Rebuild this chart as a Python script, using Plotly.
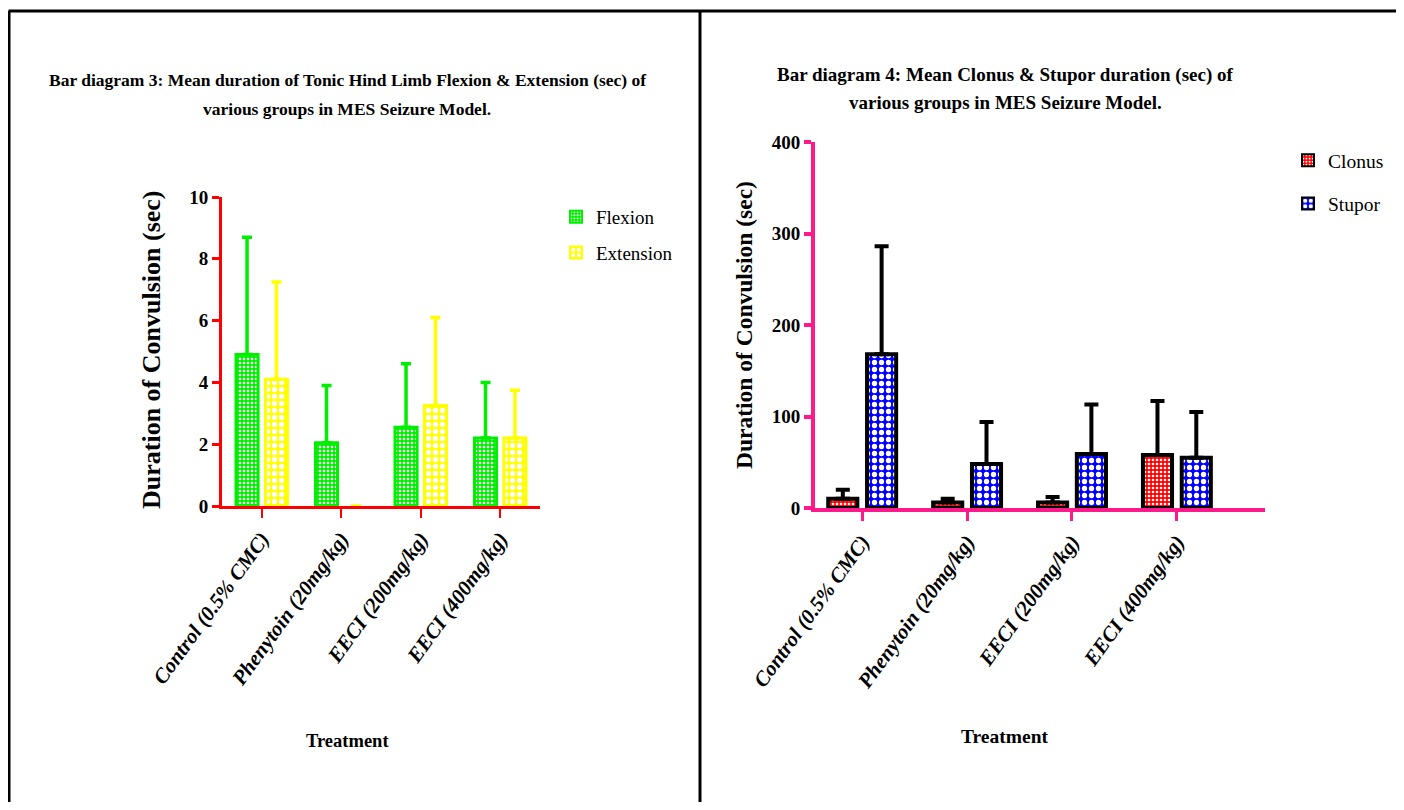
import plotly.graph_objects as go

# ---------------- data ----------------
groups = ["Control (0.5% CMC)", "Phenytoin (20mg/kg)", "EECI (200mg/kg)", "EECI (400mg/kg)"]

flexion_mean = [4.9, 2.05, 2.55, 2.2]
flexion_sem = [3.8, 1.85, 2.05, 1.8]
extension_mean = [4.1, 0.0, 3.25, 2.2]
extension_sem = [3.15, 0.0, 2.85, 1.55]

clonus_mean = [10, 6, 6, 58]
clonus_sem = [10, 4, 6, 59]
stupor_mean = [168, 48, 59, 55]
stupor_sem = [118, 46, 54, 50]

left_yticks = [0, 2, 4, 6, 8, 10]
right_yticks = [0, 100, 200, 300, 400]

title_left_1 = "Bar diagram 3: Mean duration of Tonic Hind Limb Flexion & Extension (sec) of"
title_left_2 = "various groups in MES Seizure Model."
title_right_1 = "Bar diagram 4: Mean Clonus & Stupor duration (sec) of"
title_right_2 = "various groups in MES Seizure Model."
ytitle = "Duration of Convulsion (sec)"
xtitle = "Treatment"

SERIF = "Liberation Serif"
RED = "#FF0000"
PINK = "#FF1A8C"
GREEN = "#00EE00"
YELLOW = "#FFFF00"

# page body has an 8px margin; size the figure so it fits the window without scrollbars
OFF = 8
W, H = 1396, 794
def px(x): return (x - OFF) / W
def py(y): return 1 - (y - OFF) / H

def outline(values, w):
    # no outline for empty (zero-height) bars
    return [w if v > 0 else 0 for v in values]

fig = go.Figure()

# ---------- left chart ----------
fig.add_trace(go.Bar(
    x=groups, y=flexion_mean, name="Flexion", xaxis="x", yaxis="y", legend="legend",
    legendgroup="flex",
    marker=dict(color=GREEN, line=dict(color=GREEN, width=outline(flexion_mean, 3)),
                pattern=dict(shape=".", fgcolor="white", bgcolor=GREEN, size=4, solidity=0.35)),
    error_y=dict(type="data", array=flexion_sem, arrayminus=[0]*4, symmetric=False,
                 color=GREEN, thickness=3.5, width=5),
))
fig.add_trace(go.Bar(
    x=groups, y=extension_mean, name="Extension", xaxis="x", yaxis="y", legend="legend",
    legendgroup="ext",
    marker=dict(color=YELLOW, line=dict(color=YELLOW, width=outline(extension_mean, 3)),
                pattern=dict(shape=".", fgcolor="white", bgcolor=YELLOW, size=7, solidity=0.45)),
    error_y=dict(type="data", array=extension_sem, arrayminus=[0]*4, symmetric=False,
                 color=YELLOW, thickness=3.5, width=5),
))

# ---------- right chart ----------
fig.add_trace(go.Bar(
    x=groups, y=clonus_mean, name="Clonus", xaxis="x2", yaxis="y2", legend="legend2",
    legendgroup="clonus",
    marker=dict(color="#FF0000", line=dict(color="black", width=4),
                pattern=dict(shape=".", fgcolor="white", bgcolor="#FF0000", size=4, solidity=0.35)),
    error_y=dict(type="data", array=clonus_sem, arrayminus=[0]*4, symmetric=False,
                 color="black", thickness=4, width=7),
))
fig.add_trace(go.Bar(
    x=groups, y=stupor_mean, name="Stupor", xaxis="x2", yaxis="y2", legend="legend2",
    legendgroup="stupor",
    marker=dict(color="#0000FF", line=dict(color="black", width=4),
                pattern=dict(shape=".", fgcolor="white", bgcolor="#0000FF", size=7, solidity=0.45)),
    error_y=dict(type="data", array=stupor_sem, arrayminus=[0]*4, symmetric=False,
                 color="black", thickness=4, width=7),
))

tickfont_y = dict(family=SERIF, size=19, color="black", weight="bold")
tickfont_x = dict(family=SERIF, size=21, color="black", weight="bold", style="italic")

fig.update_layout(
    template="none",
    width=W, height=H,
    margin=dict(l=0, r=0, t=0, b=0, autoexpand=False),
    paper_bgcolor="white", plot_bgcolor="rgba(0,0,0,0)",
    barmode="group", bargap=0.26, bargroupgap=0.25,
    font=dict(family=SERIF, color="black"),
    xaxis=dict(domain=[px(222), px(540)], anchor="y", range=[-0.5, 3.5], automargin=False,
               showline=True, linecolor=RED, linewidth=3, ticks="outside", tickcolor=RED,
               ticklen=9, tickwidth=2, tickangle=-54, tickfont=tickfont_x, showgrid=False,
               zeroline=False),
    yaxis=dict(domain=[py(506), py(197)], anchor="x", range=[0, 10], tickvals=left_yticks,
               automargin=False,
               showline=True, linecolor=RED, linewidth=3, ticks="outside", tickcolor=RED,
               ticklen=7, tickwidth=3, tickfont=tickfont_y, showgrid=False, zeroline=False),
    xaxis2=dict(domain=[px(815), px(1265)], anchor="y2", range=[-0.45, 3.84], automargin=False,
                showline=True, linecolor=PINK, linewidth=4, ticks="outside", tickcolor=PINK,
                ticklen=9, tickwidth=3, tickangle=-54, tickfont=tickfont_x, showgrid=False,
                zeroline=False),
    yaxis2=dict(domain=[py(508), py(142)], anchor="x2", range=[0, 400], tickvals=right_yticks,
                automargin=False,
                showline=True, linecolor=PINK, linewidth=4, ticks="outside", tickcolor=PINK,
                ticklen=7, tickwidth=4, tickfont=tickfont_y, showgrid=False, zeroline=False),
    legend=dict(x=px(556), y=py(198), xanchor="left", yanchor="top",
                font=dict(family=SERIF, size=19, color="black"),
                bgcolor="rgba(0,0,0,0)", traceorder="grouped", tracegroupgap=8,
                itemsizing="constant"),
    legend2=dict(x=px(1288), y=py(141), xanchor="left", yanchor="top",
                 font=dict(family=SERIF, size=19.5, color="black"),
                 bgcolor="rgba(0,0,0,0)", traceorder="grouped", itemsizing="constant",
                 tracegroupgap=15),
    showlegend=True,
)

def ann(text, x, y, size, angle=0):
    return dict(text="<b>" + text + "</b>", x=px(x), y=py(y), xref="paper", yref="paper",
                xanchor="center", yanchor="middle", showarrow=False, textangle=angle,
                font=dict(family=SERIF, size=size, color="black"))

annotations = [
    ann(title_left_1, 347, 80, 17.5),
    ann(title_left_2, 347, 109, 17.5),
    ann(title_right_1, 1005, 75, 19),
    ann(title_right_2, 1005, 102, 19),
    ann(ytitle, 152, 350, 26, -90),
    ann(ytitle, 744, 325, 23.5, -90),
    ann(xtitle, 347, 741, 18.5),
    ann(xtitle, 1005, 736, 19.5),
]
fig.update_layout(annotations=annotations)

# frame lines
shapes = [
    dict(type="line", xref="paper", yref="paper", x0=px(8.5), x1=1, y0=py(11), y1=py(11),
         line=dict(color="black", width=3)),
    dict(type="line", xref="paper", yref="paper", x0=px(9), x1=px(9), y0=py(11), y1=0,
         line=dict(color="black", width=3)),
    dict(type="line", xref="paper", yref="paper", x0=px(700), x1=px(700), y0=py(11), y1=0,
         line=dict(color="black", width=3)),
]
fig.update_layout(shapes=shapes)

fig.write_html("out.html")
